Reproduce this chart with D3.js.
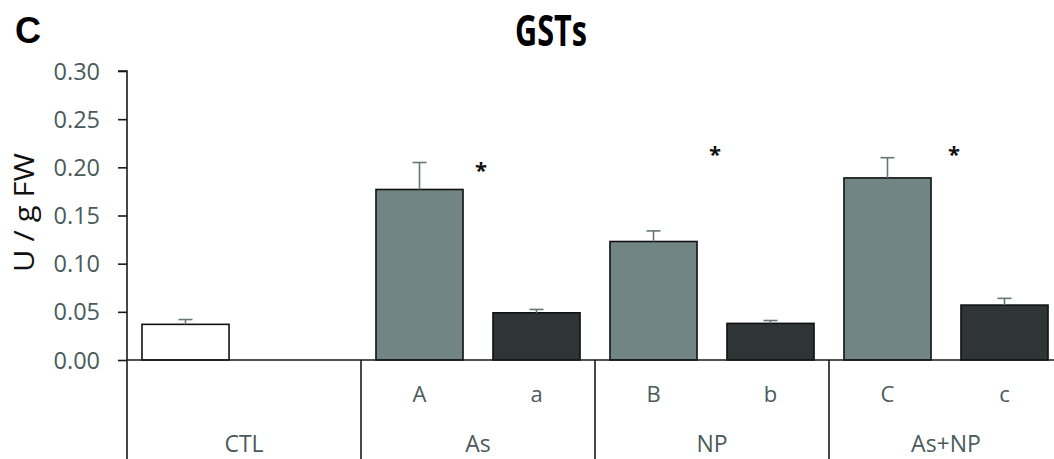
<!DOCTYPE html>
<html>
<head>
<meta charset="utf-8">
<script src="https://cdn.jsdelivr.net/npm/d3@7"></script>
<style>
  html, body { margin: 0; padding: 0; background: #fff; }
  svg { display: block; }
</style>
</head>
<body>
<svg id="chart" width="1054" height="459"></svg>
<script>
// GST activity per treatment (U / g FW)
const groups = ["CTL", "As", "NP", "As+NP"];
const barKeys = ["CTL", "A", "a", "B", "b", "C", "c"];
const slotKeys = ["CTL", "CTL-empty", "A", "a", "B", "b", "C", "c"];
const subLabels = ["", "A", "a", "B", "b", "C", "c"];
const barKind = ["control", "light", "dark", "light", "dark", "light", "dark"];
const means = [0.037, 0.177, 0.049, 0.123, 0.038, 0.189, 0.057];
const errors = [0.005, 0.028, 0.0035, 0.011, 0.003, 0.021, 0.007];
const starGroups = ["As", "NP", "As+NP"];
const starLevels = [0.201, 0.218, 0.218];
const yTicks = [0, 0.05, 0.10, 0.15, 0.20, 0.25, 0.30];

const svg = d3.select("#chart");
const plotLeft = 127, plotRight = 1063, plotTop = 71, plotBase = 360, plotBottom = 459;

const y = d3.scaleLinear().domain([0, 0.30]).range([plotBase, plotTop]);
const x = d3.scaleBand().domain(slotKeys).range([plotLeft, plotRight])
  .paddingInner(0.256).paddingOuter(0.128);
const gx = d3.scaleBand().domain(groups).range([plotLeft, plotRight]);

const fill = { control: "#ffffff", light: "#728585", dark: "#2f3537" };
const textGrey = "#4b5a5c";
const font = "'Open Sans', 'Noto Sans', sans-serif";

// Y axis
const yAxis = d3.axisLeft(y).tickValues(yTicks).tickFormat(d3.format(".2f"))
  .tickSize(9).tickPadding(18);
const ya = svg.append("g").attr("transform", `translate(${plotLeft},0)`).call(yAxis);
ya.select(".domain").attr("stroke", "#1a1a1a").attr("stroke-width", 1.6)
  .attr("d", `M-9,${plotTop}H0V${plotBase}`);
ya.selectAll(".tick line").attr("stroke", "#1a1a1a").attr("stroke-width", 1.6);
ya.selectAll(".tick text").attr("fill", textGrey).attr("font-size", 23.5)
  .attr("font-family", font).attr("dy", "0.34em");

// Bars
const bars = svg.append("g");
barKeys.forEach((k, i) => {
  bars.append("rect")
    .attr("x", x(k)).attr("width", x.bandwidth())
    .attr("y", y(means[i])).attr("height", y(0) - y(means[i]))
    .attr("fill", fill[barKind[i]]).attr("stroke", "#111").attr("stroke-width", 1.6);
});

// Upper error bars
const errG = svg.append("g").attr("stroke", "#667778").attr("stroke-width", 1.6);
barKeys.forEach((k, i) => {
  const cx = x(k) + x.bandwidth() / 2;
  errG.append("line").attr("x1", cx).attr("x2", cx)
    .attr("y1", y(means[i])).attr("y2", y(means[i] + errors[i]));
  errG.append("line").attr("x1", cx - 7).attr("x2", cx + 7)
    .attr("y1", y(means[i] + errors[i])).attr("y2", y(means[i] + errors[i]));
});

// Significance marks, placed at the right end of each group's first bar slot
starGroups.forEach((g, i) => {
  svg.append("text")
    .attr("x", gx(g) + gx.bandwidth() / 2 + 3 + (i === 2 ? 5 : 0))
    .attr("y", y(starLevels[i]) + 12)
    .attr("text-anchor", "middle").attr("font-family", font)
    .attr("font-weight", "bold").attr("font-size", 22).attr("fill", "#111")
    .text("*");
});

// Category axis: baseline, group dividers and labels
svg.append("line").attr("x1", plotLeft).attr("x2", 1054).attr("y1", plotBase).attr("y2", plotBase)
  .attr("stroke", "#1a1a1a").attr("stroke-width", 1.6);
groups.forEach(g => {
  svg.append("line").attr("x1", gx(g)).attr("x2", gx(g)).attr("y1", plotBase).attr("y2", plotBottom)
    .attr("stroke", "#1a1a1a").attr("stroke-width", 1.6);
  svg.append("text").attr("x", gx(g) + gx.bandwidth() / 2).attr("y", 452)
    .attr("text-anchor", "middle").attr("font-family", font).attr("font-size", 23)
    .attr("fill", textGrey).text(g);
});
barKeys.forEach((k, i) => {
  if (!subLabels[i]) return;
  svg.append("text").attr("x", x(k) + x.bandwidth() / 2).attr("y", 402)
    .attr("text-anchor", "middle").attr("font-family", font).attr("font-size", 22)
    .attr("fill", textGrey).text(subLabels[i]);
});

// Axis title, panel letter and chart title
svg.append("text").attr("transform", "translate(34,212.5) rotate(-90)")
  .attr("text-anchor", "middle").attr("font-family", font).attr("font-size", 27)
  .attr("textLength", 119).attr("lengthAdjust", "spacingAndGlyphs")
  .attr("fill", "#111").text("U / g FW");
svg.append("text").attr("x", 15).attr("y", 43).attr("font-family", "Arial, 'Liberation Sans', sans-serif")
  .attr("font-weight", "bold").attr("font-size", 36).attr("fill", "#000").text("C");
svg.append("text").attr("x", 551).attr("y", 46).attr("text-anchor", "middle")
  .attr("font-family", font).attr("font-weight", "bold").attr("font-size", 43)
  .attr("textLength", 72).attr("lengthAdjust", "spacingAndGlyphs")
  .attr("fill", "#000").text("GSTs");
</script>
</body>
</html>
